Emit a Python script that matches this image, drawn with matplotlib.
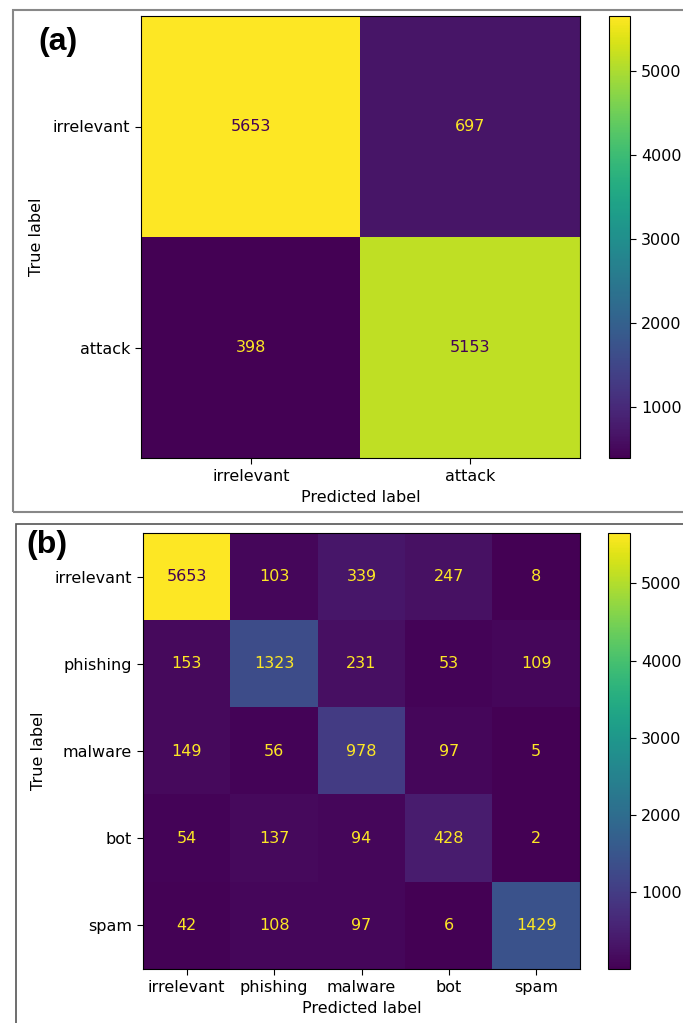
import matplotlib
matplotlib.use('Agg')
import matplotlib.pyplot as plt
import numpy as np
from matplotlib.patches import Rectangle

labels_a = ['irrelevant', 'attack']
cm_a = [[5653, 697],
        [398, 5153]]

labels_b = ['irrelevant', 'phishing', 'malware', 'bot', 'spam']
cm_b = [[5653, 103, 339, 247, 8],
        [153, 1323, 231, 53, 109],
        [149, 56, 978, 97, 5],
        [54, 137, 94, 428, 2],
        [42, 108, 97, 6, 1429]]

cbar_ticks = [1000, 2000, 3000, 4000, 5000]

plt.rcParams['font.family'] = ['DejaVu Sans']
plt.rcParams['font.size'] = 11.5
plt.rcParams['xtick.major.size'] = 4
plt.rcParams['ytick.major.size'] = 4
plt.rcParams['xtick.major.pad'] = 4
plt.rcParams['ytick.major.pad'] = 4

W, H = 683, 1023
fig = plt.figure(figsize=(W / 100, H / 100), dpi=100)


def px_axes(x0, y0, x1, y1):
    return fig.add_axes([x0 / W, 1 - y1 / H, (x1 - x0) / W, (y1 - y0) / H])


def draw_cm(ax, cax, cm, labels):
    cm = np.array(cm)
    cmap = plt.get_cmap('viridis')
    im = ax.imshow(cm, cmap=cmap, aspect='auto', interpolation='nearest')
    thresh = (cm.max() + cm.min()) / 2.0
    for i in range(cm.shape[0]):
        for j in range(cm.shape[1]):
            color = cmap(0) if cm[i, j] > thresh else cmap(1.0)
            ax.text(j, i, str(cm[i, j]), ha='center', va='center',
                    color=color, fontsize=11.5)
    ax.set_xticks(range(len(labels)))
    ax.set_xticklabels(labels)
    ax.set_yticks(range(len(labels)))
    ax.set_yticklabels(labels)
    ax.set_xlabel('Predicted label', labelpad=4)
    ax.set_ylabel('True label', labelpad=6)
    cb = fig.colorbar(im, cax=cax)
    cb.set_ticks(cbar_ticks)
    return cb


ax_a = px_axes(141, 16, 580, 458)
cax_a = px_axes(609, 16, 630, 458)
draw_cm(ax_a, cax_a, cm_a, labels_a)

ax_b = px_axes(143, 533, 580, 969)
cax_b = px_axes(608, 533, 630, 969)
draw_cm(ax_b, cax_b, cm_b, labels_b)

# panel frames
fig.patches.append(Rectangle((13 / W, 1 - 512 / H), 700 / W, 502 / H,
                             transform=fig.transFigure, fill=False,
                             edgecolor='#888888', lw=1.5))
fig.patches.append(Rectangle((16 / W, 1 - 1040 / H), 700 / W, 516 / H,
                             transform=fig.transFigure, fill=False,
                             edgecolor='#555555', lw=1.2))

fig.text(38 / W, 1 - 42 / H, '(a)', fontsize=23, fontweight='bold',
         family='Liberation Sans', va='center', ha='left')
fig.text(26 / W, 1 - 545 / H, '(b)', fontsize=23, fontweight='bold',
         family='Liberation Sans', va='center', ha='left')

fig.savefig('out.png', dpi=100)
